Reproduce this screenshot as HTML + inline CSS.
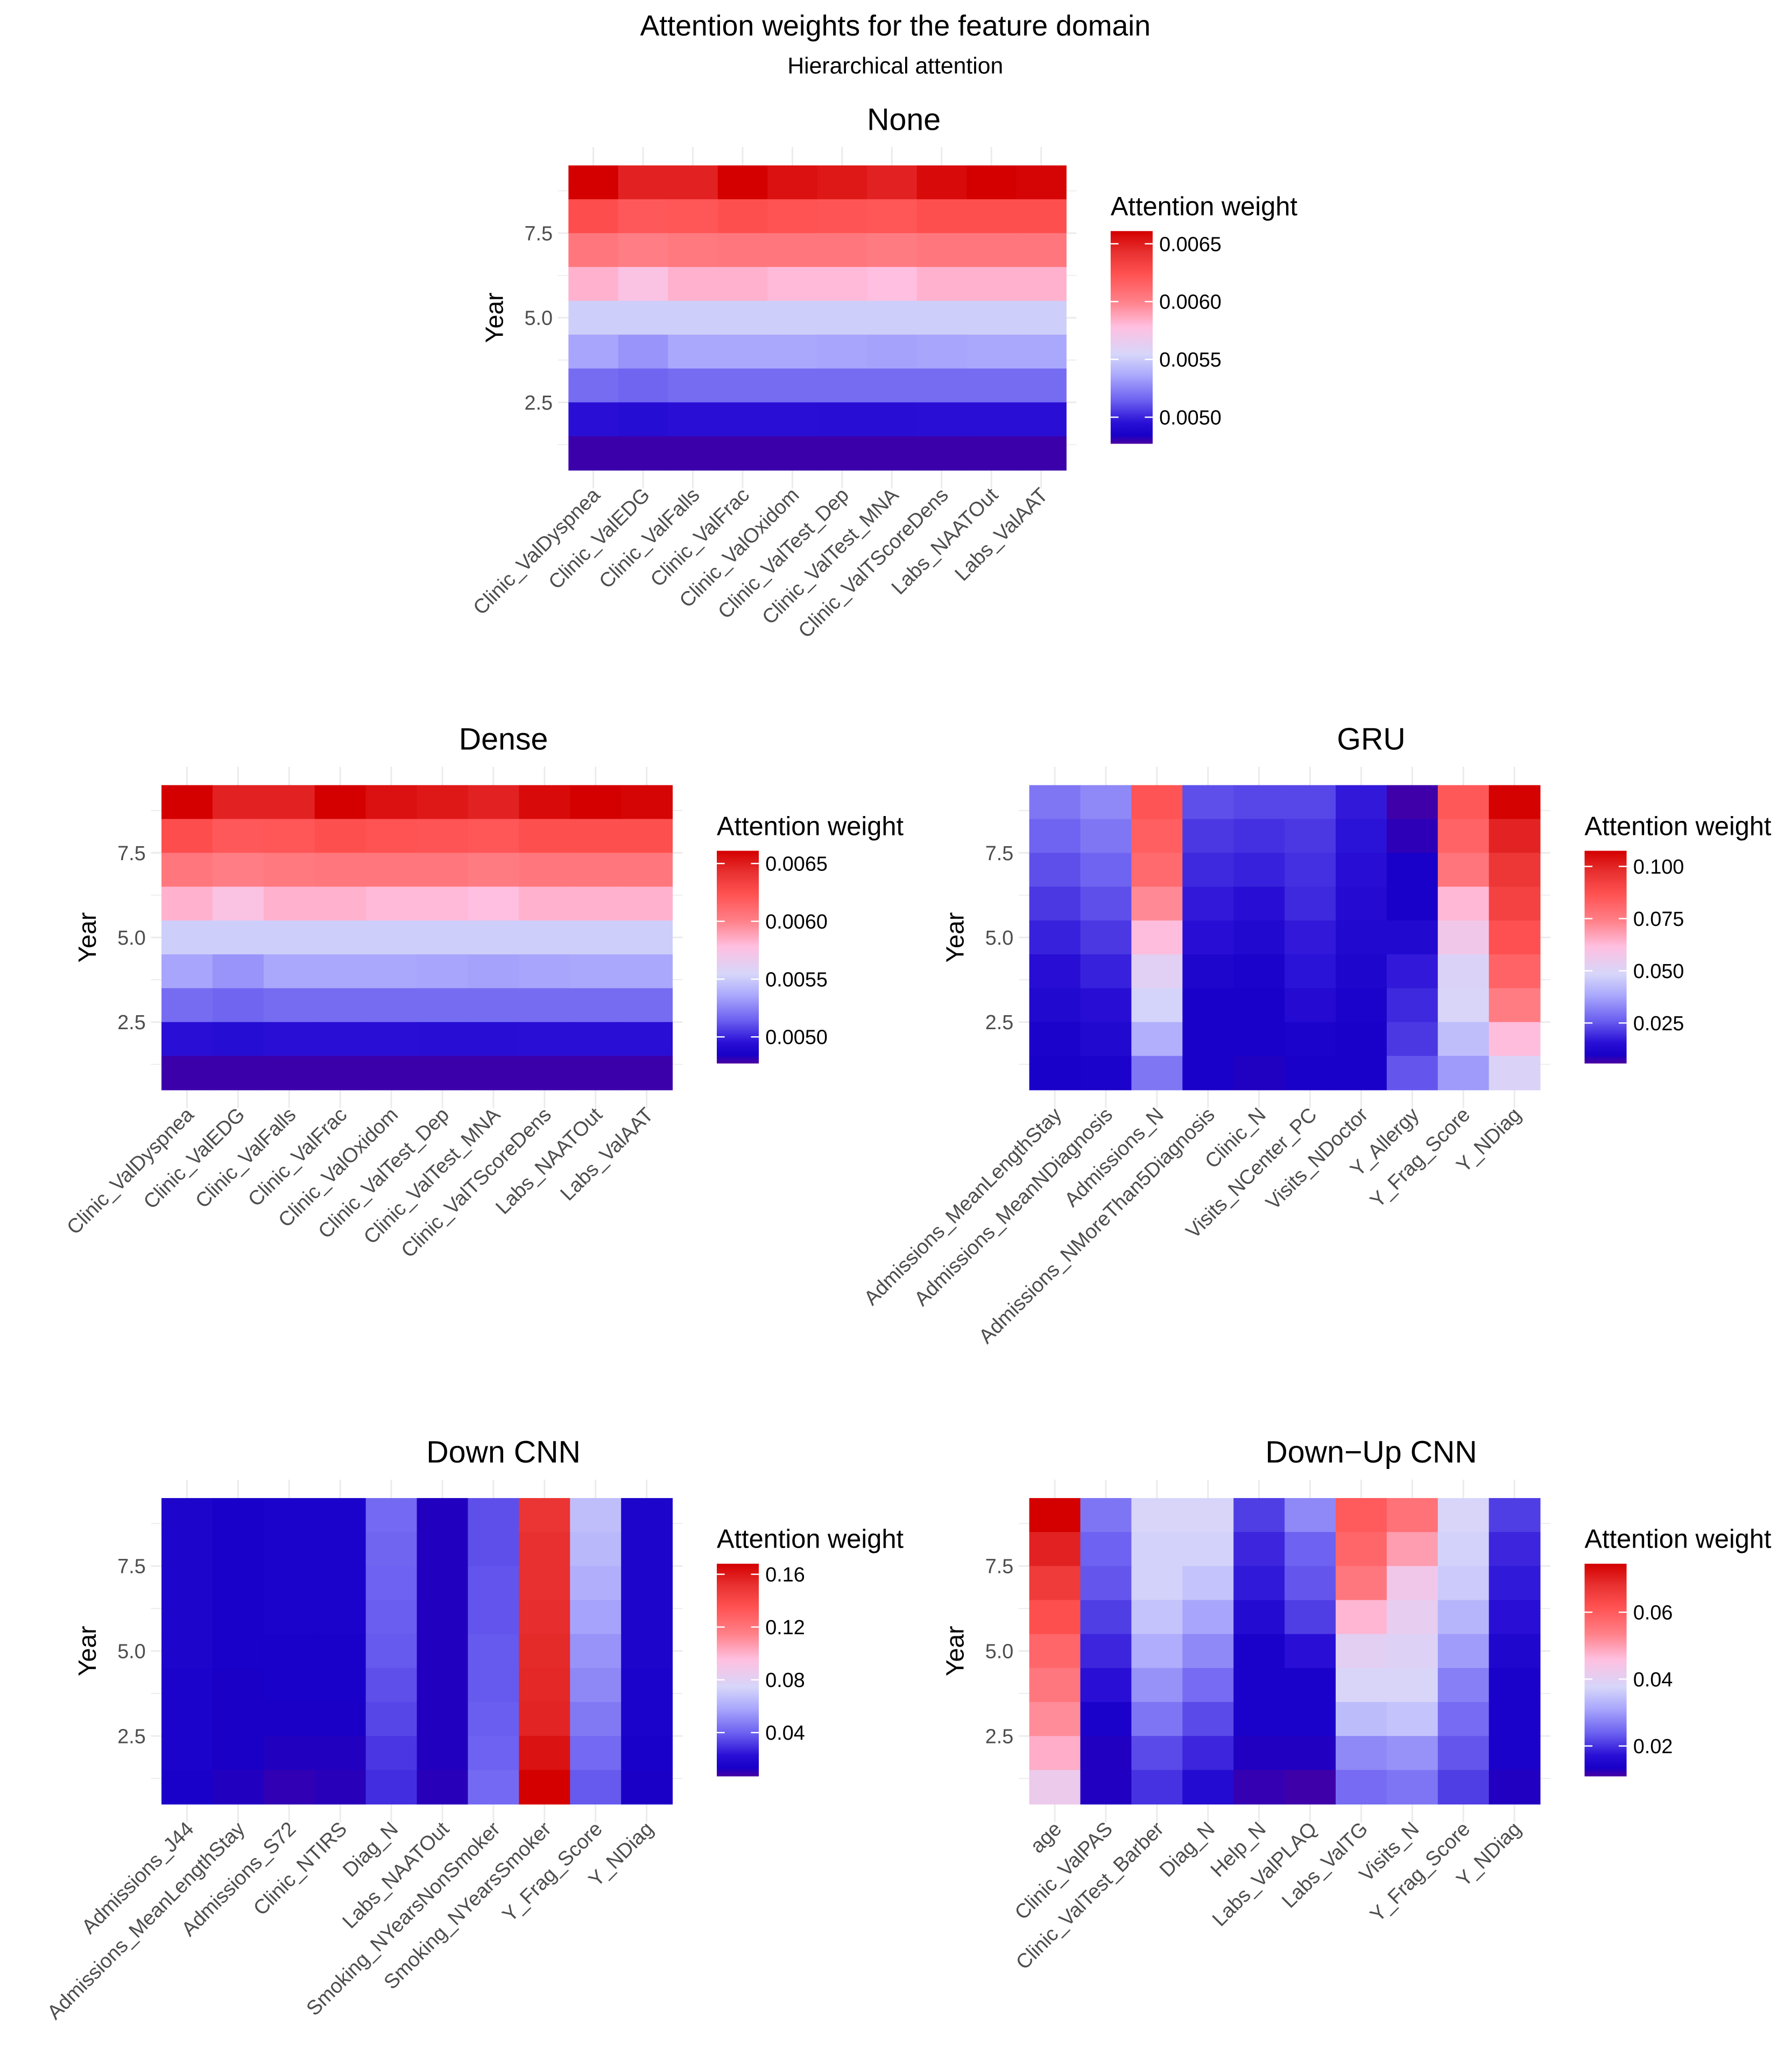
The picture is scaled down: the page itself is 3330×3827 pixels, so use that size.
<!DOCTYPE html>
<html><head><meta charset="utf-8"><style>
html,body{margin:0;padding:0;background:#fff;}
svg{display:block;font-family:"Liberation Sans",Arial,sans-serif;}
</style></head><body>
<svg id="chart" width="3330" height="3827" viewBox="0 0 1365 1569" preserveAspectRatio="none" xmlns="http://www.w3.org/2000/svg">
<rect width="1365" height="1569" fill="#fff"/>
<text x="682" y="27" font-size="22" text-anchor="middle" fill="#000">Attention weights for the feature domain</text>
<text x="682" y="56" font-size="17.5" text-anchor="middle" fill="#000">Hierarchical attention</text>
</svg>
<script>
const years = [9,8,7,6,5,4,3,2,1];
const noneFeatures = ["Clinic_ValDyspnea","Clinic_ValEDG","Clinic_ValFalls","Clinic_ValFrac","Clinic_ValOxidom","Clinic_ValTest_Dep","Clinic_ValTest_MNA","Clinic_ValTScoreDens","Labs_NAATOut","Labs_ValAAT"];
const noneValues = [
 [0.00661,0.00648,0.00648,0.00661,0.00655,0.00652,0.00648,0.00657,0.00661,0.00659],
 [0.00626,0.00620,0.00621,0.00625,0.00623,0.00622,0.00621,0.00625,0.00625,0.00625],
 [0.00605,0.00602,0.00604,0.00605,0.00605,0.00605,0.00603,0.00605,0.00605,0.00605],
 [0.00583,0.00575,0.00583,0.00583,0.00580,0.00580,0.00578,0.00583,0.00583,0.00583],
 [0.00551,0.00551,0.00551,0.00551,0.00551,0.00551,0.00551,0.00551,0.00551,0.00551],
 [0.00535,0.00530,0.00536,0.00536,0.00536,0.00535,0.00534,0.00535,0.00536,0.00536],
 [0.00518,0.00516,0.00518,0.00518,0.00518,0.00518,0.00518,0.00518,0.00518,0.00518],
 [0.00495,0.00493,0.00495,0.00495,0.00495,0.00494,0.00494,0.00495,0.00495,0.00495],
 [0.00479,0.00479,0.00479,0.00479,0.00479,0.00479,0.00479,0.00479,0.00479,0.00479]];
const noneTicks = [0.0050,0.0055,0.0060,0.0065];
const noneTickLabels = ["0.0050","0.0055","0.0060","0.0065"];
const noneRange = [0.00477,0.00661];

const denseFeatures = noneFeatures.slice();
const denseValues = noneValues.map(r=>r.slice());
const denseTicks = [0.0050,0.0055,0.0060,0.0065];
const denseTickLabels = ["0.0050","0.0055","0.0060","0.0065"];
const denseRange = [0.00477,0.00661];

const gruFeatures = ["Admissions_MeanLengthStay","Admissions_MeanNDiagnosis","Admissions_N","Admissions_NMoreThan5Diagnosis","Clinic_N","Visits_NCenter_PC","Visits_NDoctor","Y_Allergy","Y_Frag_Score","Y_NDiag"];
const gruByFeature = [
 [0.030,0.027,0.024,0.021,0.018,0.015,0.013,0.011,0.010],
 [0.033,0.030,0.027,0.024,0.021,0.018,0.015,0.013,0.011],
 [0.086,0.083,0.080,0.072,0.062,0.052,0.048,0.040,0.030],
 [0.024,0.021,0.019,0.017,0.015,0.012,0.010,0.010,0.010],
 [0.023,0.020,0.018,0.015,0.013,0.011,0.010,0.010,0.009],
 [0.023,0.021,0.020,0.019,0.017,0.016,0.014,0.011,0.010],
 [0.017,0.016,0.015,0.014,0.013,0.012,0.011,0.010,0.010],
 [0.0065,0.008,0.010,0.010,0.013,0.017,0.019,0.021,0.025],
 [0.085,0.082,0.077,0.063,0.057,0.050,0.049,0.043,0.036],
 [0.107,0.100,0.095,0.092,0.087,0.082,0.075,0.062,0.050]];
const gruTicks = [0.025,0.050,0.075,0.100];
const gruTickLabels = ["0.025","0.050","0.075","0.100"];
const gruRange = [0.0056,0.1075];

const downFeatures = ["Admissions_J44","Admissions_MeanLengthStay","Admissions_S72","Clinic_NTIRS","Diag_N","Labs_NAATOut","Smoking_NYearsNonSmoker","Smoking_NYearsSmoker","Y_Frag_Score","Y_NDiag"];
const downByFeature = [
 [0.016,0.016,0.016,0.016,0.016,0.015,0.015,0.015,0.014],
 [0.014,0.014,0.014,0.014,0.014,0.013,0.013,0.013,0.012],
 [0.015,0.015,0.015,0.015,0.014,0.014,0.013,0.012,0.010],
 [0.015,0.015,0.015,0.015,0.014,0.014,0.013,0.012,0.011],
 [0.042,0.041,0.040,0.039,0.038,0.036,0.034,0.031,0.029],
 [0.012,0.012,0.012,0.012,0.012,0.012,0.012,0.012,0.011],
 [0.036,0.036,0.037,0.037,0.038,0.038,0.039,0.040,0.042],
 [0.150,0.152,0.152,0.153,0.154,0.155,0.156,0.162,0.168],
 [0.066,0.064,0.061,0.057,0.053,0.050,0.046,0.042,0.038],
 [0.016,0.016,0.016,0.016,0.016,0.015,0.015,0.014,0.013]];
const downTicks = [0.04,0.08,0.12,0.16];
const downTickLabels = ["0.04","0.08","0.12","0.16"];
const downRange = [0.0068,0.168];

const duFeatures = ["age","Clinic_ValPAS","Clinic_ValTest_Barber","Diag_N","Help_N","Labs_ValPLAQ","Labs_ValTG","Visits_N","Y_Frag_Score","Y_NDiag"];
const duByFeature = [
 [0.0745,0.070,0.066,0.062,0.058,0.055,0.052,0.048,0.042],
 [0.026,0.024,0.023,0.021,0.019,0.017,0.014,0.013,0.013],
 [0.038,0.037,0.037,0.035,0.032,0.029,0.026,0.022,0.020],
 [0.038,0.037,0.035,0.031,0.028,0.025,0.022,0.019,0.016],
 [0.021,0.019,0.018,0.016,0.014,0.014,0.014,0.013,0.012],
 [0.028,0.024,0.023,0.021,0.017,0.014,0.014,0.013,0.0115],
 [0.060,0.058,0.055,0.047,0.040,0.038,0.034,0.028,0.025],
 [0.056,0.050,0.043,0.041,0.039,0.038,0.035,0.029,0.026],
 [0.038,0.037,0.036,0.033,0.030,0.027,0.025,0.023,0.021],
 [0.021,0.019,0.018,0.017,0.015,0.014,0.014,0.014,0.013]];
const duTicks = [0.02,0.04,0.06];
const duTickLabels = ["0.02","0.04","0.06"];
const duRange = [0.0109,0.0745];

const stops = [[0,"#4a00a0"],[0.04,"#1800c8"],[0.1,"#2a10d6"],[0.2,"#6a5ef0"],[0.32,"#aaa8fc"],[0.42,"#d6d6fa"],[0.55,"#ffbfe0"],[0.67,"#ff8088"],[0.8,"#ff5050"],[0.9,"#e83030"],[1,"#d40000"]];
function hex(c){return [1,3,5].map(i=>parseInt(c.substr(i,2),16));}
function colorAt(f){
  f=Math.max(0,Math.min(1,f));
  for(let i=1;i<stops.length;i++){
    if(f<=stops[i][0]){
      const a=stops[i-1],b=stops[i];const t=(f-a[0])/(b[0]-a[0]);
      const ca=hex(a[1]),cb=hex(b[1]);
      return "rgb("+ca.map((v,k)=>Math.round(v+(cb[k]-v)*t)).join(",")+")";
    }
  }
  return stops[stops.length-1][1];
}
const NS="http://www.w3.org/2000/svg";
const svg=document.getElementById("chart");
function mk(tag,attrs,parent){const e=document.createElementNS(NS,tag);for(const k in attrs)e.setAttribute(k,attrs[k]);(parent||svg).appendChild(e);return e;}

let gradId=0;
function panel(key,title,features,byRow,range,ticks,tickLabels,box){
  const g=mk("g",{});
  
  
  const x0=box.x,x1=box.x+box.w,y0=box.y,y1=box.y+box.h;
  const n=features.length,m=years.length;
  const cw=box.w/n, rh=box.h/m;
  const xScale=i=>x0+(i+0.5)*cw;
  const yScale=yr=>y1-(yr-0.5)*rh;
  const cScale=v=>colorAt((v-range[0])/(range[1]-range[0]));
  for(let i=0;i<n;i++){
    const l=mk("line",{x1:xScale(i),x2:xScale(i),y1:y0-14,y2:y1+14,stroke:"#ebebeb","stroke-width":1.2},g);
    
    
  }
  for(let yv=1.25;yv<=9.5;yv+=1.25){
    const l=mk("line",{x1:x0-8,x2:x1+8,y1:yScale(yv),y2:yScale(yv),stroke:"#ebebeb","stroke-width":yv%2.5===0?1.2:0.7},g);
    
    
  }
  for(let r=0;r<m;r++){
    for(let c=0;c<n;c++){
      const yr=years[r];
      const cell=mk("rect",{x:xScale(c)-cw/2,y:yScale(yr)-rh/2,width:cw+0.4,height:rh+0.4,fill:cScale(byRow[r][c])},g);
      
      
    }
  }
  [2.5,5.0,7.5].forEach(v=>{
    const t=mk("text",{x:x0-12,y:yScale(v)+5.5,"font-size":15.5,"text-anchor":"end",fill:"#4d4d4d"},g);
    t.textContent=v.toFixed(1);
    
    
  });
  const yt=mk("text",{x:0,y:0,"font-size":19,"text-anchor":"middle",fill:"#000",transform:`translate(${x0-50},${(y0+y1)/2}) rotate(-90)`},g);
  yt.textContent="Year";
  
  
  features.forEach((f,i)=>{
    const tx=xScale(i)+6, ty=y1+20;
    const t=mk("text",{x:0,y:0,"font-size":15.5,"text-anchor":"end",fill:"#4d4d4d",transform:`translate(${tx},${ty}) rotate(-45)`},g);
    t.textContent=f;
    
    
  });
  const tt=mk("text",{x:(x0+x1)/2+box.tdx,y:y0-27,"font-size":23.5,"text-anchor":"middle",fill:"#000"},g);
  tt.textContent=title;
  
  
  const lx=x1+34, ly=y0+50, lh=162, lw=32;
  const lt=mk("text",{x:lx,y:ly-12,"font-size":20,fill:"#000"},g);
  lt.textContent="Attention weight";
  
  
  const id="grad"+(gradId++);
  const defs=mk("defs",{},g);
  const lg=mk("linearGradient",{id:id,x1:0,y1:1,x2:0,y2:0},defs);
  stops.forEach(s=>mk("stop",{offset:s[0],"stop-color":s[1]},lg));
  const bar=mk("rect",{x:lx,y:ly,width:lw,height:lh,fill:`url(#${id})`},g);
  
  
  const lScale=v=>ly+lh-(v-range[0])/(range[1]-range[0])*lh;
  ticks.forEach((v,i)=>{
    const yy=lScale(v);
    mk("line",{x1:lx,x2:lx+6,y1:yy,y2:yy,stroke:"#fff","stroke-width":1},g);
    mk("line",{x1:lx+lw-6,x2:lx+lw,y1:yy,y2:yy,stroke:"#fff","stroke-width":1},g);
    const t=mk("text",{x:lx+lw+5,y:yy+5.5,"font-size":15.5,fill:"#000"},g);
    t.textContent=tickLabels[i];
    
    
  });
}
function transpose(a){return a[0].map((_,r)=>a.map(col=>col[r]));}
panel("none","None",noneFeatures,noneValues,noneRange,noneTicks,noneTickLabels,{x:433,y:126,w:379,h:232,tdx:66});
panel("dense","Dense",denseFeatures,denseValues,denseRange,denseTicks,denseTickLabels,{x:123,y:598,w:389,h:232,tdx:66});
panel("gru","GRU",gruFeatures,transpose(gruByFeature),gruRange,gruTicks,gruTickLabels,{x:784,y:598,w:389,h:232,tdx:66});
panel("down-cnn","Down CNN",downFeatures,transpose(downByFeature),downRange,downTicks,downTickLabels,{x:123,y:1141,w:389,h:233,tdx:66});
panel("down-up-cnn","Down\u2212Up CNN",duFeatures,transpose(duByFeature),duRange,duTicks,duTickLabels,{x:784,y:1141,w:389,h:233,tdx:66});
</script>
</body></html>
